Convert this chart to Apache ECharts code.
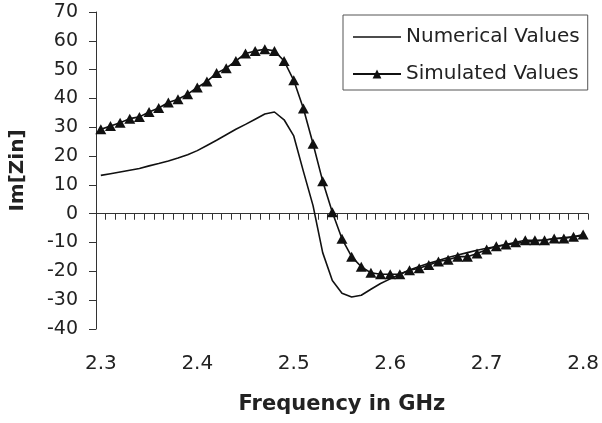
<!DOCTYPE html>
<html>
<head>
<meta charset="utf-8">
<script src="https://cdn.jsdelivr.net/npm/echarts@6/dist/echarts.min.js"></script>
<style>
html,body{margin:0;padding:0;background:#fff;}
#chart{width:602px;height:423px;}
</style>
</head>
<body>
<div id="chart"></div>
<script>
// Frequency categories (GHz)
var frequencies = [
  "2.30","2.31","2.32","2.33","2.34","2.35","2.36","2.37","2.38","2.39",
  "2.40","2.41","2.42","2.43","2.44","2.45","2.46","2.47","2.48","2.49",
  "2.50","2.51","2.52","2.53","2.54","2.55","2.56","2.57","2.58","2.59",
  "2.60","2.61","2.62","2.63","2.64","2.65","2.66","2.67","2.68","2.69",
  "2.70","2.71","2.72","2.73","2.74","2.75","2.76","2.77","2.78","2.79",
  "2.80"
];
// Numerical Values: Im[Zin]
var numericalValues = [
  13.3, 13.9, 14.5, 15.1, 15.7, 16.6, 17.4, 18.3, 19.3, 20.5,
  21.9, 23.7, 25.5, 27.4, 29.3, 31.0, 32.8, 34.6, 35.3, 32.6,
  27.0, 14.7, 2.8, -13.5, -23.2, -27.6, -28.9, -28.3, -26.2, -24.2,
  -22.6, -21.0, -19.5, -18.3, -17.2, -16.2, -15.2, -14.3, -13.5, -12.7,
  -12.0, -11.4, -10.8, -10.3, -9.9, -9.5, -9.1, -8.7, -8.3, -8.0,
  -7.6
];
// Simulated Values: Im[Zin]
var simulatedValues = [
  29.3, 30.4, 31.6, 33.0, 33.6, 35.3, 36.7, 38.6, 39.7, 41.5,
  43.8, 45.9, 48.8, 50.5, 53.0, 55.6, 56.5, 57.1, 56.5, 53.0,
  46.3, 36.5, 24.3, 11.3, 0.5, -8.7, -14.9, -18.4, -20.5, -21.0,
  -21.0, -21.0, -19.6, -18.9, -17.8, -16.6, -16.0, -14.9, -14.9, -13.8,
  -12.4, -11.3, -10.7, -9.9, -9.2, -9.2, -9.2, -8.6, -8.6, -8.0,
  -7.2
];
var yTicks = { min: -40, max: 70, interval: 10 };

var FONT = 'DejaVu Sans';
var chart = echarts.init(document.getElementById('chart'), null, { renderer: 'canvas' });
chart.setOption({
  animation: false,
  backgroundColor: '#ffffff',
  textStyle: { fontFamily: FONT },
  grid: { left: 96, right: 10, top: 12, bottom: 94, containLabel: false },
  legend: {
    show: true,
    orient: 'vertical',
    left: 343,
    top: 15,
    padding: [12, 8, 6, 9],
    itemGap: 17,
    itemWidth: 48,
    itemHeight: 11,
    borderColor: '#555',
    borderWidth: 1,
    backgroundColor: '#fff',
    textStyle: { fontFamily: FONT, fontSize: 20, color: '#222', lineHeight: 20 },
    data: [
      { name: 'Numerical Values', icon: 'path://M0,0 L48,0 L48,1.6 L0,1.6 Z', itemStyle: { color: '#111', opacity: 1 } },
      { name: 'Simulated Values' }
    ]
  },
  xAxis: {
    type: 'category',
    data: frequencies,
    boundaryGap: true,
    name: 'Frequency in GHz',
    nameLocation: 'middle',
    nameGap: 65,
    nameTextStyle: { fontFamily: FONT, fontSize: 21, fontWeight: 'bold', color: '#222' },
    axisLine: { lineStyle: { color: '#333', width: 1 } },
    axisTick: { show: true, interval: 0, length: 6, alignWithLabel: false, lineStyle: { color: '#333' } },
    axisLabel: {
      interval: 9,
      margin: 25,
      fontFamily: FONT, fontSize: 20, color: '#222',
      formatter: function (v) { return String(Number(v)); }
    },
    splitLine: { show: false }
  },
  yAxis: {
    type: 'value',
    min: yTicks.min,
    max: yTicks.max,
    interval: yTicks.interval,
    name: 'Im[Zin]',
    nameLocation: 'middle',
    nameRotate: 90,
    nameGap: 68,
    nameTextStyle: { fontFamily: FONT, fontSize: 20, fontWeight: 'bold', color: '#222' },
    axisLine: { show: true, lineStyle: { color: '#333', width: 1 } },
    axisTick: { show: true, length: 7, lineStyle: { color: '#333' } },
    axisLabel: { margin: 18, fontFamily: FONT, fontSize: 19, color: '#222' },
    splitLine: { show: false }
  },
  series: [
    {
      name: 'Numerical Values',
      type: 'line',
      data: numericalValues,
      symbol: 'none',
      showSymbol: false,
      lineStyle: { color: '#111', width: 1.6 },
      itemStyle: { color: '#111' }
    },
    {
      name: 'Simulated Values',
      type: 'line',
      data: simulatedValues,
      symbol: 'triangle',
      symbolSize: [11, 10],
      showSymbol: true,
      showAllSymbol: true,
      lineStyle: { color: '#111', width: 1.6 },
      itemStyle: { color: '#111' }
    }
  ]
});
</script>
</body>
</html>
